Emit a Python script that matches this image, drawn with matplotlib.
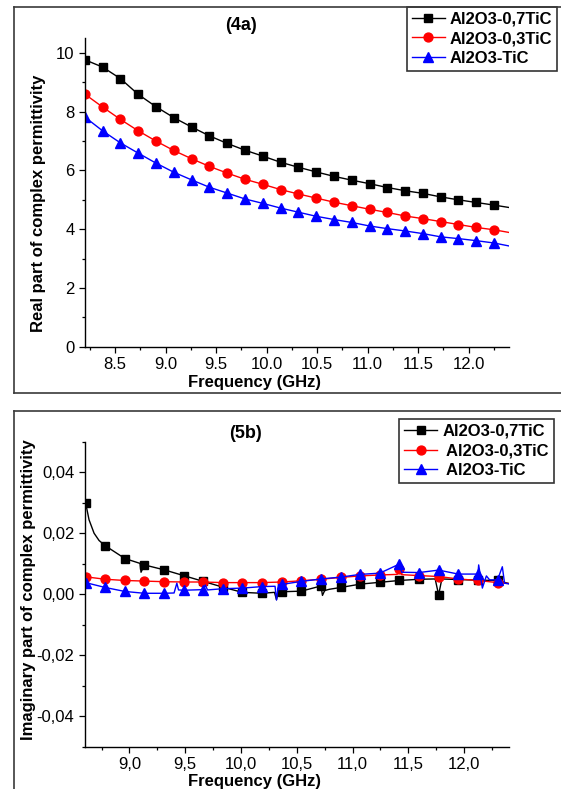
import matplotlib
matplotlib.use("Agg")
import matplotlib.pyplot as plt
from matplotlib.lines import Line2D
from matplotlib.ticker import MultipleLocator, FuncFormatter

plt.rcParams['font.family'] = ['Liberation Sans', 'DejaVu Sans']

# ---------------- data: real part (4a) ----------------
freq_real = [8.200, 8.376, 8.552, 8.729, 8.905, 9.081, 9.257, 9.433, 9.610,
             9.786, 9.962, 10.138, 10.314, 10.491, 10.667, 10.843, 11.019,
             11.195, 11.372, 11.548, 11.724, 11.900, 12.076, 12.253, 12.400]
real_07 = [9.77, 9.52, 9.13, 8.59, 8.17, 7.80, 7.48, 7.18, 6.92, 6.69, 6.49,
           6.28, 6.11, 5.95, 5.80, 5.67, 5.55, 5.42, 5.31, 5.22, 5.10, 5.00,
           4.91, 4.82, 4.74]
real_03 = [8.60, 8.16, 7.74, 7.35, 7.00, 6.68, 6.40, 6.14, 5.91, 5.70, 5.53,
           5.35, 5.20, 5.06, 4.92, 4.80, 4.68, 4.57, 4.45, 4.36, 4.26, 4.16,
           4.06, 3.98, 3.89]
real_10 = [7.82, 7.35, 6.94, 6.59, 6.25, 5.94, 5.68, 5.43, 5.23, 5.03, 4.88,
           4.72, 4.58, 4.44, 4.33, 4.23, 4.11, 4.02, 3.94, 3.85, 3.74, 3.68,
           3.61, 3.53, 3.43]
n_marked_real = 24

# ---------------- data: imaginary part (5b) ----------------
freq_imag = [8.607, 8.783, 8.959, 9.134, 9.310, 9.486, 9.662, 9.838, 10.013,
             10.189, 10.365, 10.541, 10.717, 10.892, 11.068, 11.244, 11.420,
             11.596, 11.771, 11.947, 12.123, 12.299]
imag_07 = [0.0300, 0.0159, 0.0117, 0.0096, 0.0080, 0.0061, 0.0042, 0.0023,
           0.0006, 0.0003, 0.0008, 0.0010, 0.0027, 0.0022, 0.0033, 0.0039,
           0.0045, 0.0049, -0.0002, 0.0048, 0.0046, 0.0045]
imag_03 = [0.0057, 0.0049, 0.0045, 0.0043, 0.0041, 0.0040, 0.0040, 0.0038,
           0.0038, 0.0038, 0.0040, 0.0044, 0.0049, 0.0055, 0.0060, 0.0063,
           0.0082, 0.0061, 0.0058, 0.0050, 0.0045, 0.0038]
imag_10 = [0.0038, 0.0022, 0.0009, 0.0003, 0.0003, 0.0013, 0.0015, 0.0018,
           0.0020, 0.0025, 0.0032, 0.0042, 0.0050, 0.0056, 0.0065, 0.0069,
           0.0099, 0.0071, 0.0079, 0.0066, 0.0066, 0.0047]

# intermediate points of the measured traces (between marked samples)
path_07_f = [8.638, 8.683, 8.728, 9.095, 9.104, 10.30, 10.318, 10.335,
             10.73, 10.75, 10.79, 11.74, 11.80, 12.40]
path_07_v = [0.0244, 0.0200, 0.0176, 0.0101, 0.0072, 0.0006, -0.0018, 0.0008,
             -0.0004, 0.0012, 0.0016, 0.0050, 0.0050, 0.0035]
path_03_f = [11.40, 11.44, 12.40]
path_03_v = [0.0065, 0.0064, 0.0035]
path_10_f = [9.40, 9.425, 9.44, 9.68, 9.70, 10.305, 10.318, 10.335,
             11.44, 12.13, 12.163, 12.199, 12.228, 12.342, 12.362, 12.40]
path_10_v = [0.0004, 0.0036, 0.0014, 0.0030, 0.0014, 0.0026, -0.0019, 0.0031,
             0.0072, 0.0096, 0.0020, 0.0060, 0.0047, 0.0090, 0.0036, 0.0034]

labels = ['Al2O3-0,7TiC', 'Al2O3-0,3TiC', 'Al2O3-TiC']
colors = ['#000000', '#ff0000', '#0000ff']
markers = ['s', 'o', '^']
msizes = [6.0, 6.4, 7.0]

W, H = 561, 789
fig = plt.figure(figsize=(W / 100, H / 100), dpi=100)


def fx(px):
    return px / W


def fy(py):
    return 1 - py / H


def style_axes(ax):
    for s in ('top', 'right'):
        ax.spines[s].set_visible(False)
    for s in ('left', 'bottom'):
        ax.spines[s].set_linewidth(1.0)
    ax.tick_params(which='major', direction='out', length=4.5, width=0.9,
                   labelsize=12, pad=3)
    ax.tick_params(which='minor', direction='out', length=2.5, width=0.9)


def merged(f_mark, v_mark, f_extra, v_extra):
    pts = sorted(zip(list(f_mark) + list(f_extra), list(v_mark) + list(v_extra)))
    return [p[0] for p in pts], [p[1] for p in pts]


# ---------------- panel (4a) ----------------
ax1 = fig.add_axes([fx(84.8), fy(346.7), fx(509) - fx(84.8), fy(38.3) - fy(346.7)])
for vals, c, m, ms in zip([real_07, real_03, real_10], colors, markers, msizes):
    ax1.plot(freq_real, vals, color=c, lw=1.0, marker=m, ms=ms,
             markevery=list(range(n_marked_real)))
ax1.set_xlim(8.2, 12.4)
ax1.set_ylim(0, 10.5)
ax1.xaxis.set_major_locator(MultipleLocator(0.5))
ax1.xaxis.set_minor_locator(MultipleLocator(0.25))
ax1.yaxis.set_major_locator(MultipleLocator(2))
ax1.yaxis.set_minor_locator(MultipleLocator(1))
ax1.xaxis.set_major_formatter(FuncFormatter(lambda v, p: f"{v:.1f}"))
ax1.yaxis.set_major_formatter(FuncFormatter(lambda v, p: f"{v:.0f}"))
style_axes(ax1)
ax1.set_xlabel('Frequency (GHz)', fontsize=12, fontweight='bold')
ax1.xaxis.set_label_coords(0.401, -0.1177)
ax1.xaxis.label.set_verticalalignment('center')
ax1.set_ylabel('Real part of complex permittivity', fontsize=12, fontweight='bold')
ax1.yaxis.set_label_coords(-0.108, 0.466)
ax1.yaxis.label.set_verticalalignment('center')

# ---------------- panel (5b) ----------------
ax2 = fig.add_axes([fx(84.8), fy(746.7), fx(508.8) - fx(84.8), fy(441.7) - fy(746.7)])
for vals, pf, pv, c, m, ms in zip([imag_07, imag_03, imag_10],
                                  [path_07_f, path_03_f, path_10_f],
                                  [path_07_v, path_03_v, path_10_v],
                                  colors, markers, msizes):
    lx, ly = merged(freq_imag, vals, pf, pv)
    ax2.plot(lx, ly, color=c, lw=1.0)
    ax2.plot(freq_imag, vals, color=c, ls='none', marker=m, ms=ms)
ax2.set_xlim(8.6, 12.4)
ax2.set_ylim(-0.05, 0.05)
ax2.xaxis.set_major_locator(MultipleLocator(0.5))
ax2.xaxis.set_minor_locator(MultipleLocator(0.25))
ax2.yaxis.set_major_locator(MultipleLocator(0.02))
ax2.yaxis.set_minor_locator(MultipleLocator(0.01))


def comma_fmt(decimals):
    def f(v, p):
        if abs(v) < 1e-12:
            v = 0.0
        return f"{v:.{decimals}f}".replace('.', ',')
    return f


ax2.xaxis.set_major_formatter(FuncFormatter(comma_fmt(1)))
ax2.yaxis.set_major_formatter(FuncFormatter(comma_fmt(2)))
style_axes(ax2)
ax2.set_xlabel('Frequency (GHz)', fontsize=12, fontweight='bold')
ax2.xaxis.set_label_coords(0.401, -0.1157)
ax2.xaxis.label.set_verticalalignment('center')
ax2.set_ylabel('Imaginary part of complex permittivity', fontsize=12, fontweight='bold')
ax2.yaxis.set_label_coords(-0.1325, 0.5138)
ax2.yaxis.label.set_verticalalignment('center')

# panel titles
fig.text(fx(241), fy(25), '(4a)', ha='center', va='center', fontsize=13, fontweight='bold')
fig.text(fx(246), fy(434), '(5b)', ha='center', va='center', fontsize=13, fontweight='bold')

# panel frames
frame_kw = dict(color='#3a3a3a', lw=1.2, transform=fig.transFigure)
fig.add_artist(Line2D([fx(14.3), fx(14.3)], [fy(7), fy(393)], **frame_kw))
fig.add_artist(Line2D([fx(14.3), 1.0], [fy(7), fy(7)], **frame_kw))
fig.add_artist(Line2D([fx(14.3), 1.0], [fy(393), fy(393)], **frame_kw))
fig.add_artist(Line2D([fx(14.3), fx(14.3)], [fy(411), 0.0], **frame_kw))
fig.add_artist(Line2D([fx(14.3), 1.0], [fy(411), fy(411)], **frame_kw))

# legends
handles = [Line2D([], [], color=c, lw=1.0, marker=m, ms=ms)
           for c, m, ms in zip(colors, markers, msizes)]
leg_kw = dict(loc='upper right', bbox_transform=fig.transFigure, borderaxespad=0,
              fancybox=False, framealpha=1, edgecolor='#333333',
              prop={'size': 12, 'weight': 'bold'}, handlelength=2.0,
              handletextpad=0.3, labelspacing=0.28, borderpad=0.28, numpoints=1)
leg1 = ax1.legend(handles, labels, bbox_to_anchor=(fx(557), fy(7)), **leg_kw)
leg1.get_frame().set_linewidth(1.2)
leg2 = ax2.legend(handles, [labels[0], ' ' + labels[1], ' ' + labels[2]],
                  bbox_to_anchor=(fx(553.5), fy(419)), **leg_kw)
leg2.get_frame().set_linewidth(1.2)

fig.savefig('out.png', dpi=100)
